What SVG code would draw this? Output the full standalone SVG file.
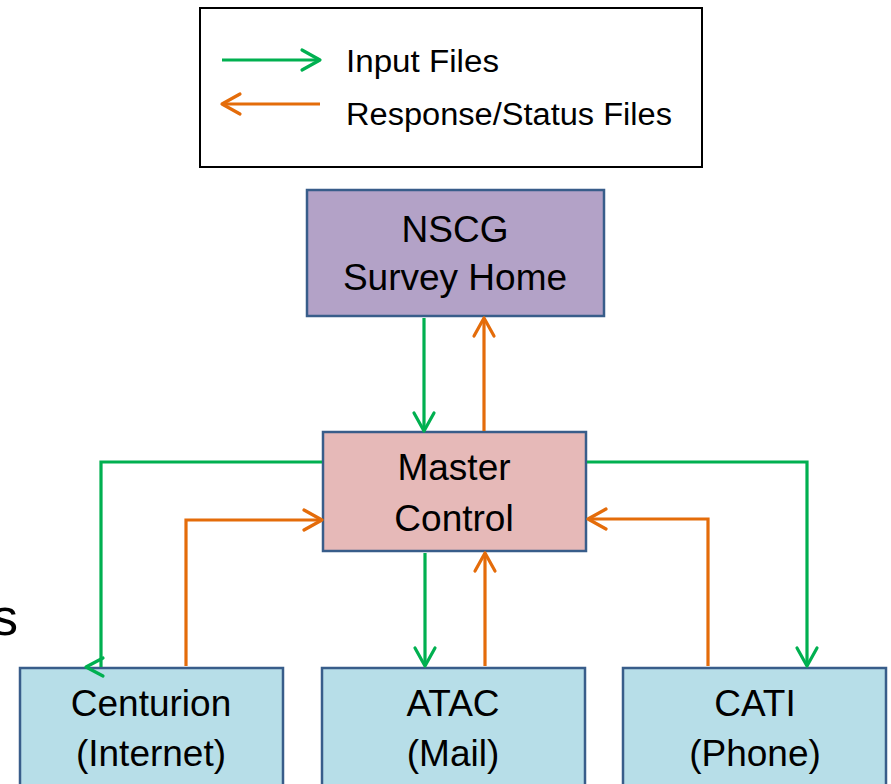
<svg xmlns="http://www.w3.org/2000/svg" width="891" height="784" viewBox="0 0 891 784">
<style>
.node rect{stroke:#385D8A;stroke-width:2.5}
.lbl{font-family:"Liberation Sans",Arial,sans-serif;font-size:37px;fill:#000;text-anchor:middle}
.leg{font-family:"Liberation Sans",Arial,sans-serif;font-size:31px;fill:#000}
.g{stroke:#00B050;stroke-width:3.2;fill:none}
.o{stroke:#E46C0A;stroke-width:3.2;fill:none}
</style>
<defs>
<marker id="ag" markerUnits="userSpaceOnUse" markerWidth="30" markerHeight="30" viewBox="-22 -15 26 30" refX="0" refY="0" orient="auto" overflow="visible">
<path d="M-18,-10 L0,0 L-18,10" fill="none" stroke="#00B050" stroke-width="3.2" stroke-linecap="round" stroke-linejoin="round"/>
</marker>
<marker id="ao" markerUnits="userSpaceOnUse" markerWidth="30" markerHeight="30" viewBox="-22 -15 26 30" refX="0" refY="0" orient="auto" overflow="visible">
<path d="M-18,-10 L0,0 L-18,10" fill="none" stroke="#E46C0A" stroke-width="3.2" stroke-linecap="round" stroke-linejoin="round"/>
</marker>
</defs>
<rect width="891" height="784" fill="#fff"/>
<text x="18" y="635" font-family="Liberation Sans,Arial,sans-serif" font-size="52" text-anchor="end" fill="#000">s</text>
<g id="legend">
<rect x="200" y="8" width="502" height="159" fill="#fff" stroke="#000" stroke-width="2"/>
<line class="g" x1="222" y1="60" x2="320" y2="60" marker-end="url(#ag)"/>
<line class="o" x1="320" y1="104" x2="222" y2="104" marker-end="url(#ao)"/>
<text class="leg" x="346" y="72" textLength="153" lengthAdjust="spacingAndGlyphs">Input Files</text>
<text class="leg" x="346" y="125" textLength="326" lengthAdjust="spacingAndGlyphs">Response/Status Files</text>
</g>
<g id="nscg" class="node">
<rect x="307" y="190" width="297" height="126" fill="#B3A2C7"/>
<text class="lbl" x="455" y="242">NSCG</text>
<text class="lbl" x="455" y="290">Survey Home</text>
</g>
<g id="master" class="node">
<rect x="323" y="432" width="263" height="119" fill="#E6B9B8"/>
<text class="lbl" x="454" y="480">Master</text>
<text class="lbl" x="454" y="531">Control</text>
</g>
<g id="centurion" class="node">
<rect x="20" y="668" width="263" height="130" fill="#B7DEE8"/>
<text class="lbl" x="151" y="716">Centurion</text>
<text class="lbl" x="151" y="766">(Internet)</text>
</g>
<g id="atac" class="node">
<rect x="322" y="668" width="263" height="130" fill="#B7DEE8"/>
<text class="lbl" x="453" y="716">ATAC</text>
<text class="lbl" x="453" y="766">(Mail)</text>
</g>
<g id="cati" class="node">
<rect x="623" y="668" width="263" height="130" fill="#B7DEE8"/>
<text class="lbl" x="755" y="716">CATI</text>
<text class="lbl" x="755" y="766">(Phone)</text>
</g>
<g id="connectors">
<path class="g" d="M424,318 V431" marker-end="url(#ag)"/>
<path class="o" d="M484,431 V318" marker-end="url(#ao)"/>
<path class="g" d="M322,462 H101 V667"/>
<path d="M103,658 L86,667 L103,676" fill="none" stroke="#00B050" stroke-width="3.2" stroke-linecap="round" stroke-linejoin="round"/>
<path class="o" d="M186,666 V520 H322" marker-end="url(#ao)"/>
<path class="g" d="M425,553 V666" marker-end="url(#ag)"/>
<path class="o" d="M485,666 V553" marker-end="url(#ao)"/>
<path class="g" d="M587,462 H807 V666" marker-end="url(#ag)"/>
<path class="o" d="M708,666 V519 H588" marker-end="url(#ao)"/>
</g>
</svg>
